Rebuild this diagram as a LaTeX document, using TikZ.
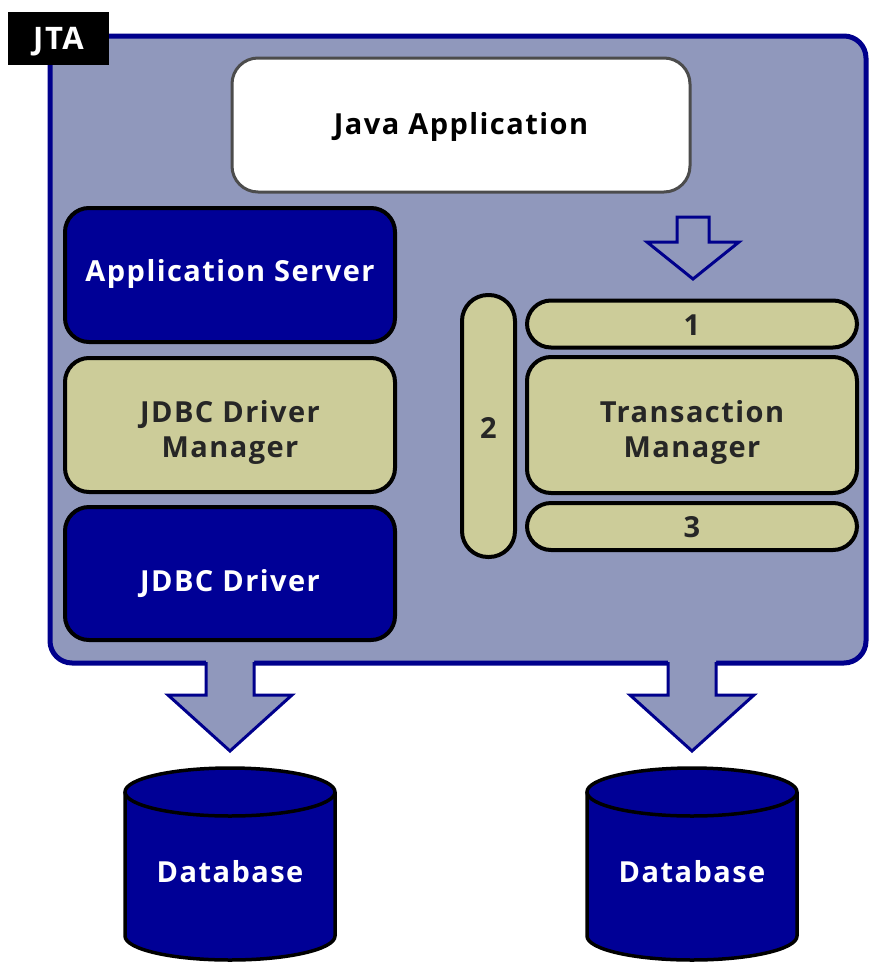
\documentclass[tikz,border=0pt]{standalone}
\usepackage{fontspec}
\setmainfont{Open Sans}[LetterSpace=5]
\definecolor{panel}{HTML}{9098BC}
\definecolor{navy}{HTML}{000096}
\definecolor{khaki}{HTML}{CCCC99}
\definecolor{rim}{HTML}{00008C}
\begin{document}
\begin{tikzpicture}[x=1pt,y=-1pt,
  lbl/.style={font=\fontsize{29}{35}\selectfont\bfseries, align=center, inner sep=0pt,
              text height=22pt, text depth=0pt},
  box/.style={lbl, draw=black, line width=4pt, rounded corners=24pt, minimum width=330pt},
  bluebox/.style={box, fill=navy, text=white, minimum height=134pt},
  tanbox/.style={box, fill=khaki, text=black!85},
  twoline/.style={text height=64pt, text depth=0pt},
  pill/.style={tanbox, minimum height=47pt},
  hollow/.style={draw=rim, line width=3pt, line join=miter},
  dbbody/.style={fill=navy, draw=black, line width=3.5pt},
]
\useasboundingbox (0,0) rectangle (869,970);

% outer JTA panel
\draw[rim, line width=5pt, fill=panel, rounded corners=22pt] (50,36) rectangle (866,663);
\node[fill=black, text=white, minimum width=101pt, minimum height=53pt, inner sep=0pt,
      font=\fontsize{31}{36}\selectfont\bfseries, text height=22pt, text depth=0pt] (jta) at (58.5,38.5) {JTA};

% application block
\node[lbl, draw=black!70, line width=3pt, rounded corners=26pt, fill=white,
      minimum width=458pt, minimum height=134pt, text depth=3pt] (app) at (461,125) {Java Application};

% left column
\node[bluebox, text depth=9pt] (as) at (230,275) {Application Server};
\node[tanbox, twoline, minimum height=134pt] (dm) at (230,425) {JDBC Driver\\Manager};
\node[bluebox, minimum height=133pt, text height=35pt] (drv) at (230,573.5) {JDBC Driver};

% transaction manager with its phases
\node[tanbox, minimum width=53pt, minimum height=262pt, rounded corners=26pt, text height=25pt] (p2) at (488.5,426) {2};
\node[pill] (p1) at (692,324) {1};
\node[tanbox, twoline, minimum height=136pt] (tm) at (692,425) {Transaction\\Manager};
\node[pill] (p3) at (692,526.5) {3};

% hollow arrow into the transaction manager
\draw[hollow] (677,217) -- (709,217) -- (709,242) -- (739,242) -- (693,279) -- (647,242) -- (677,242) -- cycle;

% arrows leaving the panel
\foreach \c in {230,692}{
  \fill[panel] (\c-24,655) rectangle (\c+24,668);
  \fill[panel] (\c-24,660) -- (\c-24,695) -- (\c-62,695) -- (\c,751) -- (\c+62,695) -- (\c+24,695) -- (\c+24,660) -- cycle;
  \draw[hollow] (\c-24,662) -- (\c-24,695) -- (\c-62,695) -- (\c,751) -- (\c+62,695) -- (\c+24,695) -- (\c+24,662);
}

% databases
\foreach \c/\n in {230/db1,692/db2}{
  \fill[navy] (\c,792) ellipse (105 and 24);
  \draw[dbbody] (\c-105,792) -- (\c-105,936) arc (180:0:105 and 24) -- (\c+105,792);
  \draw[black, line width=3.5pt] (\c,792) ellipse (105 and 24);
  \node[lbl, text=white] (\n) at (\c,871) {Database};
}
\end{tikzpicture}
\end{document}
